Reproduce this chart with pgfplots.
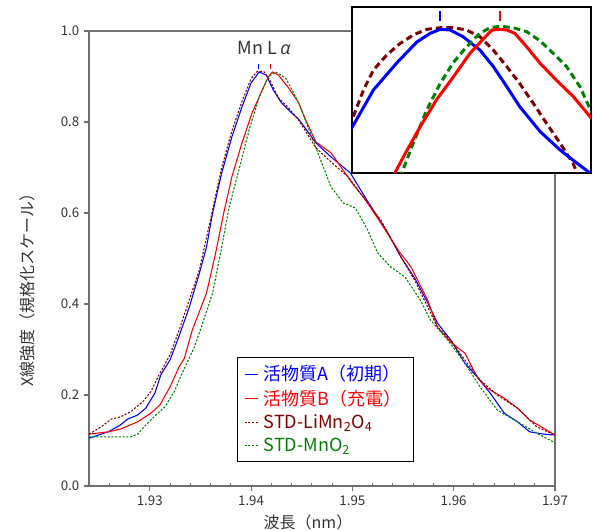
\documentclass[border=0pt]{standalone}
\usepackage{pgfplots}
\pgfplotsset{compat=1.18}
\usepackage{fontspec}
\setmainfont{Noto Sans CJK JP}
\newfontfamily\osans{Open Sans}
\definecolor{axgray}{HTML}{707070}
\definecolor{txtgray}{HTML}{333333}
\definecolor{brn}{HTML}{7F0000}
\definecolor{grn}{HTML}{008000}
\begin{document}
\begin{tikzpicture}
\begin{axis}[
  name=main, at={(0,0)}, anchor=south west,
  scale only axis, width=349.5pt, height=341.25pt,
  xmin=1.924, xmax=1.97, ymin=0, ymax=1,
  xtick={1.93,1.94,1.95,1.96,1.97},
  minor xtick={1.926,1.928,1.932,1.934,1.936,1.938,1.942,1.944,1.946,1.948,1.952,1.954,1.956,1.958,1.962,1.964,1.966,1.968},
  ytick={0,0.2,0.4,0.6,0.8,1.0},
  xtick pos=bottom, ytick pos=left,
  tick align=outside,
  major tick length=3.75pt,
  minor tick length=2.25pt,
  minor x tick style={yshift=2.25pt},
  axis line style={axgray, line width=1.1pt},
  tick style={axgray, line width=0.8pt},
  x tick label style={/pgf/number format/.cd, fixed, fixed zerofill, precision=2, /tikz/.cd},
  y tick label style={/pgf/number format/.cd, fixed, fixed zerofill, precision=1, /tikz/.cd},
  /pgf/number format/assume math mode=true,
  ticklabel style={font=\fontsize{10}{12}\selectfont, text=txtgray},
  xlabel={波長（nm）},
  xlabel style={at={(axis description cs:0.47,-0.081)}, anchor=center, font=\fontsize{12}{14}\selectfont, text=txtgray},
  ylabel={X線強度（規格化スケール）},
  ylabel style={at={(axis description cs:-0.133,0.44)}, anchor=center, font=\fontsize{12}{14}\selectfont, text=txtgray},
  legend style={at={(axis description cs:0.3176,0.2835)}, anchor=north west, draw=black, line width=0.6pt,
    font=\fontsize{13.5}{16}\selectfont, row sep=1.5pt, inner xsep=5pt, inner ysep=4pt,
    nodes={inner xsep=4pt}},
  legend cell align=left,
  legend image code/.code={\draw[#1] (0pt,0pt) -- (10pt,0pt);},
]
\addplot[blue, line width=0.8pt] table[row sep=\\] {
x y\\
1.9240 0.105\\ 1.9259 0.119\\ 1.9271 0.134\\ 1.9278 0.147\\ 1.9288 0.156\\ 1.9296 0.171\\
1.9305 0.204\\ 1.9311 0.245\\ 1.9320 0.277\\ 1.9329 0.330\\ 1.9339 0.393\\ 1.9349 0.468\\
1.9356 0.525\\ 1.9362 0.600\\ 1.9371 0.688\\ 1.9381 0.767\\ 1.9391 0.833\\ 1.9400 0.886\\
1.9408 0.910\\ 1.9415 0.903\\ 1.9422 0.870\\ 1.9430 0.842\\ 1.9440 0.820\\ 1.9447 0.806\\
1.9464 0.754\\ 1.9479 0.723\\ 1.9498 0.688\\ 1.9513 0.633\\ 1.9525 0.591\\ 1.9535 0.556\\
1.9548 0.503\\ 1.9562 0.455\\ 1.9574 0.404\\ 1.9584 0.358\\ 1.9597 0.321\\ 1.9611 0.270\\
1.9623 0.240\\ 1.9636 0.204\\ 1.9650 0.160\\ 1.9663 0.141\\ 1.9675 0.119\\ 1.9689 0.114\\
1.9700 0.112\\
};
\addlegendentry{\textcolor{blue}{活物質A（初期）}}
\addplot[red, line width=0.8pt] table[row sep=\\] {
x y\\
1.9240 0.114\\ 1.9259 0.119\\ 1.9271 0.125\\ 1.9288 0.141\\ 1.9301 0.160\\ 1.9310 0.178\\
1.9320 0.218\\ 1.9329 0.262\\ 1.9334 0.280\\ 1.9342 0.343\\ 1.9356 0.424\\ 1.9365 0.512\\
1.9373 0.600\\ 1.9381 0.679\\ 1.9391 0.754\\ 1.9401 0.820\\ 1.9411 0.870\\ 1.9417 0.899\\
1.9421 0.910\\ 1.9427 0.903\\ 1.9437 0.875\\ 1.9447 0.842\\ 1.9454 0.804\\ 1.9464 0.756\\
1.9479 0.732\\ 1.9499 0.668\\ 1.9513 0.629\\ 1.9528 0.578\\ 1.9545 0.519\\ 1.9558 0.481\\
1.9574 0.410\\ 1.9584 0.349\\ 1.9597 0.316\\ 1.9611 0.292\\ 1.9623 0.240\\ 1.9633 0.215\\
1.9650 0.193\\ 1.9663 0.171\\ 1.9675 0.145\\ 1.9700 0.112\\
};
\addlegendentry{\textcolor{red}{活物質B（充電）}}
\addplot[brn, line width=0.8pt, dash pattern=on 1.6pt off 1.2pt] table[row sep=\\] {
x y\\
1.9240 0.114\\ 1.9252 0.130\\ 1.9262 0.147\\ 1.9271 0.152\\ 1.9281 0.163\\ 1.9293 0.185\\
1.9301 0.207\\ 1.9310 0.248\\ 1.9320 0.288\\ 1.9329 0.343\\ 1.9349 0.475\\ 1.9362 0.607\\
1.9371 0.700\\ 1.9381 0.780\\ 1.9391 0.845\\ 1.9400 0.895\\ 1.9406 0.911\\ 1.9413 0.910\\
1.9419 0.890\\ 1.9427 0.853\\ 1.9437 0.831\\ 1.9447 0.804\\ 1.9464 0.743\\ 1.9479 0.712\\
1.9496 0.679\\ 1.9515 0.622\\ 1.9528 0.585\\ 1.9548 0.503\\ 1.9562 0.450\\ 1.9584 0.349\\
1.9597 0.321\\ 1.9611 0.277\\ 1.9626 0.233\\ 1.9643 0.200\\ 1.9663 0.171\\ 1.9682 0.130\\
1.9700 0.112\\
};
\addlegendentry{\textcolor{brn}{STD-LiMn\textsubscript{2}O\textsubscript{4}}}
\addplot[grn, line width=0.8pt, dash pattern=on 1.6pt off 1.2pt] table[row sep=\\] {
x y\\
1.9240 0.108\\ 1.9259 0.108\\ 1.9281 0.108\\ 1.9288 0.114\\ 1.9296 0.134\\ 1.9305 0.154\\
1.9315 0.174\\ 1.9324 0.207\\ 1.9334 0.258\\ 1.9344 0.305\\ 1.9350 0.343\\ 1.9362 0.424\\
1.9371 0.525\\ 1.9378 0.610\\ 1.9388 0.695\\ 1.9398 0.782\\ 1.9408 0.855\\ 1.9417 0.899\\
1.9424 0.910\\ 1.9434 0.897\\ 1.9442 0.864\\ 1.9447 0.842\\ 1.9466 0.732\\ 1.9479 0.657\\
1.9491 0.622\\ 1.9503 0.611\\ 1.9515 0.563\\ 1.9525 0.512\\ 1.9538 0.481\\ 1.9552 0.459\\
1.9567 0.409\\ 1.9577 0.365\\ 1.9594 0.321\\ 1.9611 0.270\\ 1.9626 0.218\\ 1.9643 0.167\\
1.9663 0.141\\ 1.9682 0.116\\ 1.9700 0.095\\
};
\addlegendentry{\textcolor{grn}{STD-MnO\textsubscript{2}}}
\addplot[blue, line width=0.8pt, forget plot] coordinates {(1.94076,0.917) (1.94076,0.927)};
\addplot[red, line width=0.8pt, forget plot] coordinates {(1.94194,0.917) (1.94194,0.927)};
\node[text=txtgray, font=\fontsize{13.5}{15}\selectfont] at (axis cs:1.9413,0.963) {Mn L\,{\osans\itshape α}};
\end{axis}
\begin{axis}[
  at={(197.25pt,234.75pt)}, anchor=south west,
  scale only axis, width=179.25pt, height=124.5pt,
  xmin=1.9389, xmax=1.9437, ymin=0.82, ymax=0.924,
  xtick=\empty, ytick=\empty,
  axis line style={black, line width=1.5pt},
  axis background/.style={fill=white},
]
\addplot[brn, line width=2.25pt, dash pattern=on 5pt off 3pt] table[row sep=\\] {
x y\\
1.93880 0.850\\ 1.93891 0.854\\ 1.93913 0.872\\ 1.93933 0.8845\\ 1.93960 0.894\\ 1.93986 0.901\\
1.94013 0.9065\\ 1.94040 0.910\\ 1.94067 0.911\\ 1.94093 0.911\\ 1.94120 0.9096\\ 1.94147 0.9054\\
1.94174 0.897\\ 1.94201 0.8866\\ 1.94227 0.876\\ 1.94254 0.8637\\ 1.94281 0.851\\ 1.94308 0.8386\\
1.94334 0.826\\ 1.94342 0.820\\ 1.94350 0.816\\
};
\addplot[blue, line width=2.25pt] table[row sep=\\] {
x y\\
1.93880 0.843\\ 1.93891 0.849\\ 1.93933 0.872\\ 1.93980 0.889\\ 1.94020 0.902\\ 1.94047 0.9075\\
1.94067 0.910\\ 1.94087 0.9096\\ 1.94113 0.9054\\ 1.94147 0.897\\ 1.94174 0.8866\\ 1.94201 0.874\\
1.94227 0.8615\\ 1.94268 0.8459\\ 1.94308 0.8344\\ 1.94334 0.828\\ 1.94368 0.820\\ 1.94380 0.818\\
};
\addplot[grn, line width=2.25pt, dash pattern=on 5pt off 3pt] table[row sep=\\] {
x y\\
1.93985 0.817\\ 1.93990 0.820\\ 1.94013 0.8386\\ 1.94040 0.8595\\ 1.94067 0.876\\ 1.94093 0.889\\
1.94120 0.899\\ 1.94147 0.9075\\ 1.94167 0.911\\ 1.94187 0.912\\ 1.94214 0.911\\ 1.94241 0.9085\\
1.94267 0.903\\ 1.94294 0.895\\ 1.94321 0.8866\\ 1.94348 0.874\\ 1.94369 0.8595\\ 1.94380 0.852\\
};
\addplot[red, line width=2.25pt] table[row sep=\\] {
x y\\
1.93970 0.817\\ 1.93976 0.820\\ 1.94000 0.834\\ 1.94027 0.849\\ 1.94060 0.866\\ 1.94093 0.880\\
1.94127 0.895\\ 1.94154 0.904\\ 1.94171 0.9096\\ 1.94187 0.910\\ 1.94201 0.9096\\ 1.94217 0.9075\\
1.94241 0.899\\ 1.94267 0.889\\ 1.94301 0.878\\ 1.94334 0.868\\ 1.94369 0.855\\ 1.94380 0.851\\
};
\addplot[blue, line width=1.5pt] coordinates {(1.94067,0.9155) (1.94067,0.9215)};
\addplot[red, line width=1.5pt] coordinates {(1.94187,0.9155) (1.94187,0.9215)};
\end{axis}
\pgfresetboundingbox
\path[use as bounding box] (-66.75pt,-33.75pt) rectangle (378pt,364.5pt);
\end{tikzpicture}
\end{document}
